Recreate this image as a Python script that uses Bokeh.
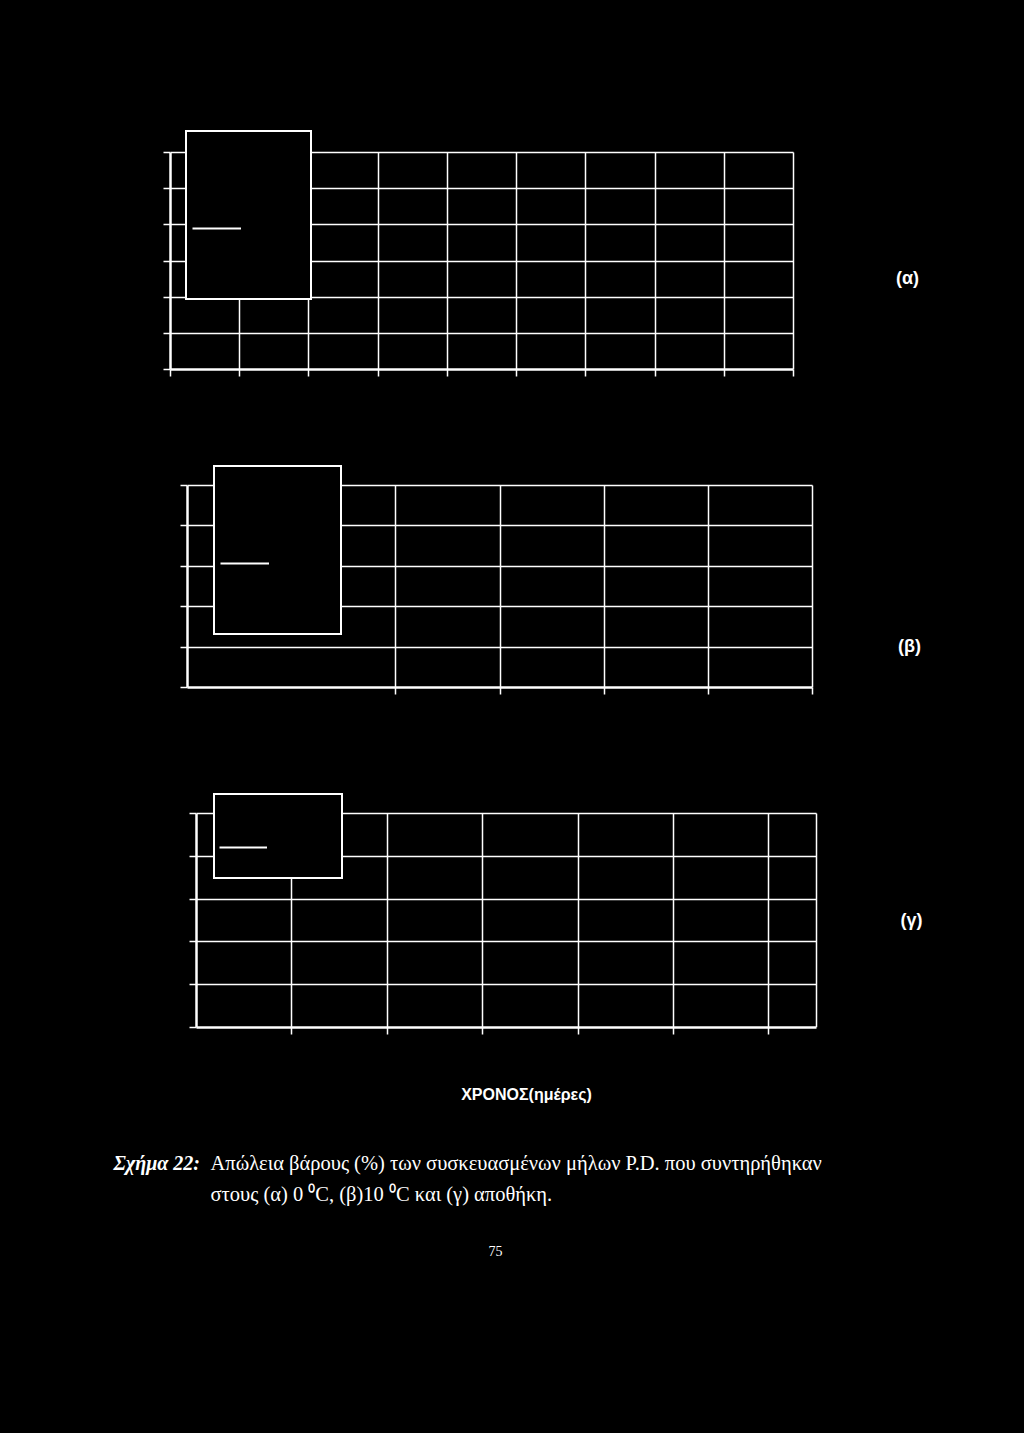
from bokeh.plotting import figure
from bokeh.models import (Range1d, FixedTicker, Legend, LegendItem, Label,
                          ColumnDataSource, CustomJSTickFormatter)
from bokeh.core.properties import value
from bokeh.layouts import column
from bokeh.embed import file_html
from bokeh.resources import INLINE

BG = "#000000"
FG = "#ffffff"
NAN = float("nan")

# ---------------- data / ticks ----------------
# (tick labels and the data lines themselves are not legible in the scanned reference,
#  so each series is kept as a missing value: only its legend sample is drawn)
# panel (α) 0 °C
alpha_x_range = (0, 90)
alpha_x_ticks = [0, 10, 20, 30, 40, 50, 60, 70, 80, 90]
alpha_y_range = (0, 3)
alpha_y_ticks = [0, 0.5, 1, 1.5, 2, 2.5, 3]
alpha_days = [0]
alpha_loss = [NAN]

# panel (β) 10 °C
beta_x_range = (0, 30)
beta_x_ticks = [10, 15, 20, 25, 30]
beta_y_range = (0, 5)
beta_y_ticks = [0, 1, 2, 3, 4, 5]
beta_days = [0]
beta_loss = [NAN]

# panel (γ) αποθήκη
gamma_x_range = (0, 65)
gamma_x_ticks = [10, 20, 30, 40, 50, 60]
gamma_y_range = (0, 5)
gamma_y_ticks = [0, 1, 2, 3, 4, 5]
gamma_days = [0]
gamma_loss = [NAN]

panel_tags = ["(α)", "(β)", "(γ)"]
x_title = "ΧΡΟΝΟΣ(ημέρες)"
caption_head = "Σχήμα 22:"
caption_line1 = "Απώλεια βάρους (%) των  συσκευασμένων μήλων P.D. που συντηρήθηκαν"
caption_line2 = "στους (α) 0 \u2070C, (β)10 \u2070C και (γ) αποθήκη."
page_number = "75"

PAGE_W = 1024
blank = CustomJSTickFormatter(code="return ''")


def make_panel(xr, yr, xt, yt, xs, ys, grid_box, canvas, leg, tag, tag_pos):
    left, top, right, bottom = grid_box          # page pixels of the gridded area
    ctop, cbot = canvas
    # frame spans from the axes to the right page edge and up to the canvas top,
    # the axes and grid are bounded to the data ranges
    x1e = xr[0] + (PAGE_W - left) / (right - left) * (xr[1] - xr[0])
    y1e = yr[0] + (bottom - ctop) / (bottom - top) * (yr[1] - yr[0])
    p = figure(width=PAGE_W, height=cbot - ctop, title=None,
               x_range=Range1d(xr[0], x1e), y_range=Range1d(yr[0], y1e),
               min_border_left=left, min_border_right=0,
               min_border_top=0, min_border_bottom=cbot - bottom,
               toolbar_location=None, output_backend="svg",
               background_fill_color=BG, border_fill_color=BG,
               outline_line_color=None)
    p.frame_align = False
    p.xaxis.ticker = FixedTicker(ticks=xt)
    p.yaxis.ticker = FixedTicker(ticks=yt)
    p.xaxis.bounds = (xr[0], xr[1])
    p.yaxis.bounds = (yr[0], yr[1])
    for ax in (p.xaxis[0], p.yaxis[0]):
        ax.formatter = blank
        ax.axis_line_color = FG
        ax.axis_line_width = 2.5
        ax.major_tick_line_color = FG
        ax.major_tick_line_width = 1.5
        ax.major_tick_out = 7
        ax.major_tick_in = 0
        ax.minor_tick_line_color = None
        ax.major_label_text_color = FG
    gx = sorted(set(list(xt) + [xr[1]]))
    p.xgrid.ticker = FixedTicker(ticks=gx)
    p.ygrid.ticker = FixedTicker(ticks=yt)
    p.xgrid.cross_bounds = (yr[0], yr[1])
    p.ygrid.cross_bounds = (xr[0], xr[1])
    for g in (p.xgrid[0], p.ygrid[0]):
        g.grid_line_color = FG
        g.grid_line_width = 1.5
        g.grid_line_alpha = 1.0

    src = ColumnDataSource(dict(x=xs, y=ys))
    r = p.line(x="x", y="y", source=src, line_color=FG, line_width=2)

    n, k, pad, gh, sp, gw, lw, vx, vy = leg
    items = [LegendItem(label=value(""), renderers=([r] if i == k else []))
             for i in range(n)]
    legend = Legend(items=items, location=(vx, vy), margin=0, padding=pad,
                    spacing=sp, glyph_width=gw, glyph_height=gh,
                    label_height=gh, label_width=lw, label_standoff=5,
                    label_text_font_size="6px", label_text_color=FG,
                    border_line_color=FG, border_line_width=2,
                    border_line_alpha=1.0,
                    background_fill_color=BG, background_fill_alpha=1.0)
    p.add_layout(legend)

    px, py = tag_pos
    tx = xr[0] + (px - left) / (right - left) * (xr[1] - xr[0])
    ty = yr[0] + (bottom - py) / (bottom - top) * (yr[1] - yr[0])
    p.add_layout(Label(x=tx, y=ty, text=tag, text_align="center",
                       text_baseline="middle", text_color=FG,
                       text_font="Liberation Sans", text_font_style="bold",
                       text_font_size="18px"))
    return p


pa = make_panel(alpha_x_range, alpha_y_range, alpha_x_ticks, alpha_y_ticks,
                alpha_days, alpha_loss,
                grid_box=(170, 152, 793, 369), canvas=(0, 430),
                leg=(6, 3, 5, 26, 0, 49, 59, 15, 69),
                tag=panel_tags[0], tag_pos=(907, 277))
pb = make_panel(beta_x_range, beta_y_range, beta_x_ticks, beta_y_ticks,
                beta_days, beta_loss,
                grid_box=(187, 485, 812, 687), canvas=(430, 760),
                leg=(6, 3, 5, 26, 0, 49, 61, 26, 52),
                tag=panel_tags[1], tag_pos=(909, 645))
pc = make_panel(gamma_x_range, gamma_y_range, gamma_x_ticks, gamma_y_ticks,
                gamma_days, gamma_loss,
                grid_box=(196, 813, 816, 1027), canvas=(760, 1060),
                leg=(4, 2, 4, 8, 14, 48, 65, 17, 148),
                tag=panel_tags[2], tag_pos=(911, 919))

# text block below the charts (label positions = page pixels offset to this canvas)
T_TOP = 1060
T_H = 240
pt = figure(width=PAGE_W, height=T_H, title=None, x_range=Range1d(0, PAGE_W),
            y_range=Range1d(T_H, 0), min_border=0,
            x_axis_location=None, y_axis_location=None,
            toolbar_location=None, output_backend="svg",
            background_fill_color=BG, border_fill_color=BG,
            outline_line_color=None)
pt.frame_align = False
pt.grid.visible = False


def txt(px, py, s, font, size, style="normal", align="left"):
    pt.add_layout(Label(x=px, y=py - T_TOP, text=s, text_align=align,
                        text_baseline="middle", text_color=FG,
                        text_font=font, text_font_style=style,
                        text_font_size=size))


txt(526, 1094, x_title, "Liberation Sans", "16px", "bold", "center")
txt(113, 1162, caption_head, "Liberation Serif", "20px", "bold italic")
txt(210, 1162, caption_line1, "Liberation Serif", "20.5px")
txt(210, 1193, caption_line2, "Liberation Serif", "20.5px")
txt(495, 1250, page_number, "Liberation Serif", "14px", "normal", "center")

layout = column(pa, pb, pc, pt)
html = file_html(layout, INLINE)
html = html.replace("<head>", "<head><style>html,body{background:#000000;}</style>", 1)
open("out.html", "w").write(html)
